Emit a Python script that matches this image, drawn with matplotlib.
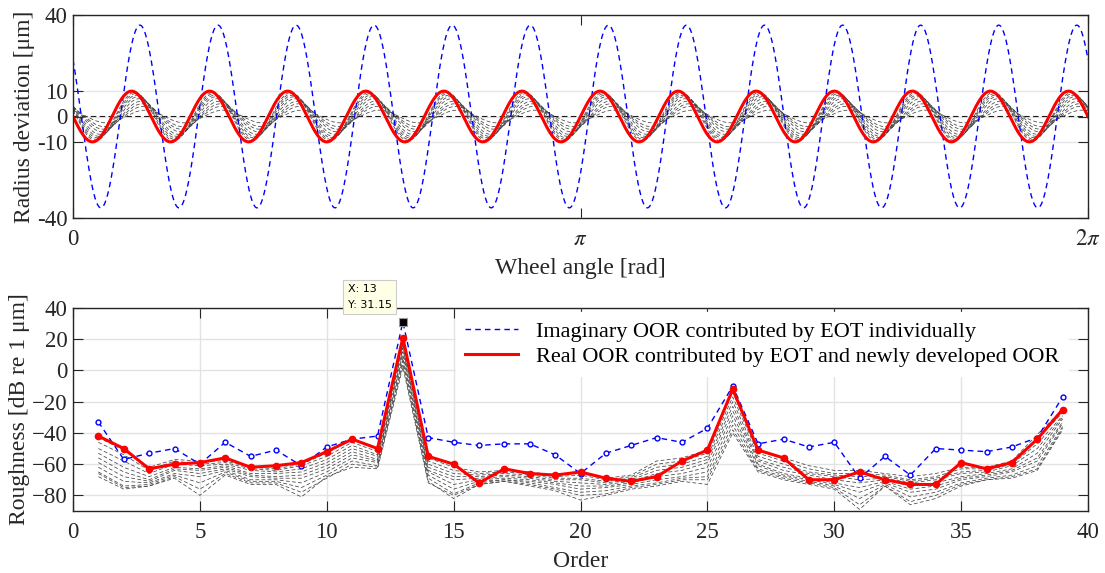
import numpy as np
import matplotlib
matplotlib.use("Agg")
import matplotlib.pyplot as plt
from matplotlib.lines import Line2D

plt.rcParams['font.family'] = ['Liberation Serif', 'DejaVu Serif']
plt.rcParams['mathtext.fontset'] = 'stix'

# ---------------- top panel data (sinusoid parameters, order 13) ----------------
order_main = 13
blue_amp = 36.0
blue_phase = 0.9
red_amp = 10.0
black_amps = [0.0, 2.5, 4.0, 5.0, 6.0, 7.0, 7.8, 8.4, 9.0, 9.5]
black_lags = [0.0, 1.1, 0.95, 0.85, 0.75, 0.6, 0.5, 0.4, 0.32, 0.25]
top_yticks = [-40, -10, 0, 10, 40]

# ---------------- bottom panel data ----------------
orders = list(range(1, 40))
blue_db = [-33, -57, -53, -50, -60, -46, -55, -51, -61, -49, -44, -42, 31.15, -43, -46, -48, -47, -47, -54, -66,
           -53, -48, -43, -46, -37, -10, -47, -44, -49, -46, -69, -55, -67, -50, -51, -52, -49, -43, -17]
red_db = [-42, -50, -63, -60, -59, -56, -62, -61, -59, -52, -44, -50, 21, -55, -60, -72, -63, -66, -67, -65,
          -69, -71, -68, -58, -51, -12, -51, -56, -70, -70, -65, -70, -73, -73, -59, -63, -59, -44, -25]
black_db = [
    [-43, -51, -62, -57, -58, -58, -62, -63, -60, -53, -44, -50, 18, -56, -62, -65, -64, -65, -67, -66, -69, -67, -58, -56, -51, -14, -51, -56, -61, -64, -64, -66, -68, -66, -62, -62, -58, -41, -25],
    [-46, -54, -64, -58, -60, -59, -63, -64, -61, -55, -46, -52, 17, -58, -64, -66, -65, -66, -68, -67, -70, -68, -60, -58, -53, -17, -53, -58, -63, -66, -66, -67, -70, -68, -63, -63, -59, -44, -27],
    [-50, -58, -66, -60, -61, -60, -64, -65, -63, -57, -48, -54, 15, -60, -66, -67, -66, -67, -69, -69, -71, -69, -62, -60, -55, -20, -55, -60, -65, -67, -68, -68, -71, -69, -65, -64, -60, -47, -29],
    [-53, -62, -68, -62, -63, -61, -66, -66, -65, -59, -50, -55, 14, -62, -68, -68, -67, -68, -70, -70, -72, -70, -64, -62, -57, -23, -57, -62, -66, -68, -70, -69, -72, -70, -66, -65, -61, -50, -30],
    [-56, -65, -70, -63, -64, -62, -67, -68, -67, -61, -52, -57, 12, -64, -70, -69, -68, -69, -71, -72, -73, -71, -66, -64, -59, -26, -58, -64, -67, -70, -72, -70, -74, -72, -68, -66, -63, -53, -31],
    [-59, -68, -71, -64, -66, -63, -68, -69, -69, -63, -54, -58, 10, -65, -73, -70, -69, -70, -72, -74, -74, -72, -68, -66, -62, -29, -60, -66, -69, -72, -75, -71, -76, -74, -69, -67, -64, -56, -33],
    [-62, -71, -72, -66, -68, -64, -70, -70, -72, -65, -56, -59, 8, -67, -76, -71, -70, -71, -73, -76, -75, -73, -70, -68, -65, -32, -61, -67, -70, -73, -78, -72, -78, -76, -70, -68, -65, -58, -34],
    [-65, -74, -73, -67, -72, -65, -71, -71, -75, -67, -58, -61, 6, -69, -79, -72, -70, -72, -75, -78, -77, -74, -72, -69, -68, -35, -63, -68, -71, -74, -82, -73, -81, -78, -72, -69, -67, -61, -36],
    [-68, -76, -74, -68, -76, -66, -72, -72, -78, -69, -60, -62, 4, -71, -82, -73, -71, -73, -76, -80, -79, -75, -73, -70, -70, -38, -64, -69, -72, -75, -86, -74, -84, -80, -73, -70, -68, -63, -37],
    [-66, -75, -74, -69, -80, -67, -73, -73, -81, -68, -62, -63, 2, -72, -80, -73, -71, -74, -77, -83, -80, -76, -74, -71, -73, -40, -65, -70, -73, -76, -89, -74, -86, -82, -74, -70, -69, -64, -38],
]
tip_x, tip_y = 13, 31.15
legend_labels = ['Imaginary OOR contributed by EOT individually',
                 'Real OOR contributed by EOT and newly developed OOR']

W, H = 1105, 573
fig = plt.figure(figsize=(W / 100, H / 100), dpi=100)
ax1 = fig.add_axes([73 / W, 1 - 218 / H, 1015 / W, 203 / H])
ax2 = fig.add_axes([73 / W, 1 - 511 / H, 1015 / W, 203 / H])

axc = '#262626'
fs_tick = 16.5
fs_lab = 17
fs_leg = 16

theta = np.linspace(0, 2 * np.pi, 3000)
for a, lag in zip(black_amps, black_lags):
    ax1.plot(theta, -a * np.sin(order_main * theta - lag), color='#444444' if a > 0 else '#1a1a1a',
             lw=0.55 if a > 0 else 0.8, dashes=(5, 3))
ax1.plot(theta, blue_amp * np.cos(order_main * theta + blue_phase), color='#0000ff', lw=1.0, dashes=(4, 3))
ax1.plot(theta, -red_amp * np.sin(order_main * theta), color='#ff0000', lw=2.2)
ax1.set_xlim(0, 2 * np.pi)
ax1.set_ylim(-40, 40)
ax1.set_yticks(top_yticks)
ax1.set_yticklabels([str(v) for v in top_yticks])
ax1.set_xticks([0, np.pi, 2 * np.pi])
ax1.set_xticklabels(['0', r'$\pi$', r'$2\pi$'])
ax1.yaxis.grid(True, color='#e6e6e6', lw=1.0)
ax1.set_axisbelow(True)
ax1.set_xlabel('Wheel angle [rad]', fontsize=fs_lab, color=axc, labelpad=6)
ax1.set_ylabel('Radius deviation [μm]', fontsize=fs_lab, color=axc, labelpad=1)

for b in black_db:
    ax2.plot(orders, b, color='#444444', lw=0.55, dashes=(5, 3))
ax2.plot(orders, blue_db, color='#0000ff', lw=1.0, dashes=(4, 3), marker='o', ms=3.5,
         mfc='white', mec='#0000ff', mew=1.0)
ax2.plot(orders, red_db, color='#ff0000', lw=2.2, marker='o', ms=4.5, mfc='#ff0000', mec='#ff0000')
ax2.plot([tip_x], [tip_y], marker='s', ms=6, mfc='black', mec='#999999', mew=0.8, ls='none',
         zorder=6, clip_on=False)
ax2.annotate(f'X: {tip_x}\nY: {tip_y:.2f}', xy=(tip_x, tip_y), xytext=(-55, 12), textcoords='offset pixels',
             fontsize=8, family='DejaVu Sans', color='black', ha='left', va='bottom', linespacing=1.7,
             bbox=dict(boxstyle='square,pad=0.4', fc='#ffffe6', ec='#cccccc', lw=0.8),
             annotation_clip=False, zorder=7)
ax2.set_xlim(0, 40)
ax2.set_ylim(-90, 40)
ax2.set_xticks(range(0, 41, 5))
ax2.set_yticks(range(-80, 41, 20))
ax2.grid(True, color='#e3e3e3', lw=1.0)
ax2.set_axisbelow(True)
ax2.set_xlabel('Order', fontsize=fs_lab, color=axc, labelpad=6)
ax2.set_ylabel('Roughness [dB re 1 μm]', fontsize=fs_lab, color=axc, labelpad=1)

handles = [Line2D([], [], color='#0000ff', lw=1.0, dashes=(4, 3)),
           Line2D([], [], color='#ff0000', lw=2.2)]
leg = ax2.legend(handles, legend_labels, loc='upper right', fontsize=fs_leg, frameon=True,
                 fancybox=False, edgecolor='white', framealpha=1.0, handlelength=2.4,
                 borderaxespad=0.2, labelspacing=0.2, bbox_to_anchor=(0.985, 1.0))

for ax in (ax1, ax2):
    ax.tick_params(direction='in', length=7, width=0.8, top=True, right=True, labelsize=fs_tick,
                   colors=axc)
    ax.tick_params(axis='x', pad=8)
    ax.tick_params(axis='y', pad=4)
    for sp in ax.spines.values():
        sp.set_color(axc)
        sp.set_linewidth(1.0)

fig.savefig('out.png', dpi=100)
